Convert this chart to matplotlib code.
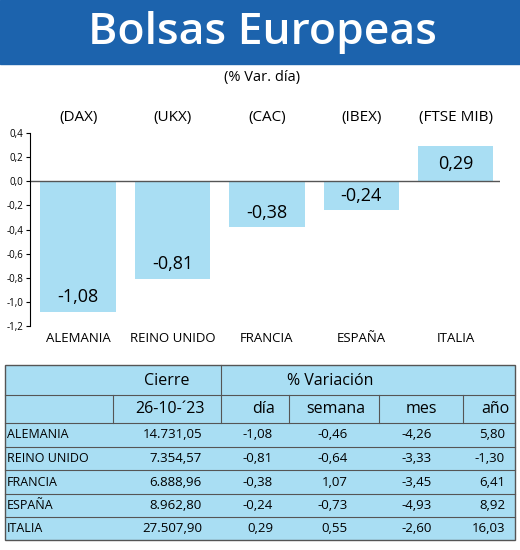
import matplotlib.pyplot as plt
from matplotlib.patches import Rectangle

paises = ["ALEMANIA", "REINO UNIDO", "FRANCIA", "ESPAÑA", "ITALIA"]
indices = ["(DAX)", "(UKX)", "(CAC)", "(IBEX)", "(FTSE MIB)"]
var_dia = [-1.08, -0.81, -0.38, -0.24, 0.29]
cierre = ["14.731,05", "7.354,57", "6.888,96", "8.962,80", "27.507,90"]
dia = ["-1,08", "-0,81", "-0,38", "-0,24", "0,29"]
semana = ["-0,46", "-0,64", "1,07", "-0,73", "0,55"]
mes = ["-4,26", "-3,33", "-3,45", "-4,93", "-2,60"]
anio = ["5,80", "-1,30", "6,41", "8,92", "16,03"]
yticks = [0.4, 0.2, 0.0, -0.2, -0.4, -0.6, -0.8, -1.0, -1.2]

W, H = 520, 550
fig = plt.figure(figsize=(W / 100, H / 100), dpi=100)
plt.rcParams['font.family'] = ['Open Sans', 'DejaVu Sans']

# overlay in pixel coords
ov = fig.add_axes([0, 0, 1, 1])
ov.set_xlim(0, W)
ov.set_ylim(H, 0)
ov.axis("off")

ov.add_patch(Rectangle((0, 0), W, 64, color="#1c63ad"))
ov.text(262, 33, "Bolsas Europeas", color="white", fontsize=32, fontweight="semibold",
        ha="center", va="center")
ov.text(262, 78, "(% Var. día)", fontsize=10.5, ha="center", va="center")

# bar chart
x0, x1, y0, y1 = 30, 500, 133, 326
ax = fig.add_axes([x0 / W, 1 - y1 / H, (x1 - x0) / W, (y1 - y0) / H])
pos = range(len(paises))
ax.bar(pos, var_dia, width=0.8, color="#a9def3")
ax.axhline(0, color="#555555", lw=1)
ax.set_ylim(-1.2, 0.4)
ax.set_xlim(-0.51, 4.47)
ax.set_yticks(yticks)
ax.set_yticklabels([f"{v:.1f}".replace(".", ",") for v in yticks], fontsize=7)
ax.tick_params(axis="y", length=3, pad=2)
ax.set_xticks([])
for s in ["top", "right", "bottom"]:
    ax.spines[s].set_visible(False)
for i, v in enumerate(var_dia):
    yl = v / 2 if v > 0 else v + 0.12
    ax.text(i, yl, f"{v:.2f}".replace(".", ","), ha="center", va="center", fontsize=13)
    ax.text(i, 0.53, indices[i], ha="center", va="center", fontsize=11)
    ax.text(i, -1.3, paises[i], ha="center", va="center", fontsize=9.5)

# table
tx0, tx1, ty0, ty1 = 5, 515, 365, 540
ov.add_patch(Rectangle((tx0, ty0), tx1 - tx0, ty1 - ty0, facecolor="#a9def3",
                       edgecolor="#555555", lw=1))
rows = [365, 395, 423, 447, 470, 494, 517, 540]
for r in rows[1:-1]:
    ov.plot([tx0, tx1], [r, r], color="#555555", lw=0.8)
ov.plot([221, 221], [365, 423], color="#555555", lw=0.8)
for xv in [113, 289, 379, 463]:
    ov.plot([xv, xv], [395, 423], color="#555555", lw=0.8)
ov.text(167, 381, "Cierre", fontsize=11.5, ha="center", va="center")
ov.text(330, 381, "% Variación", fontsize=11.5, ha="center", va="center")
hdr = [(205, "26-10-´23"), (275, "día"), (365, "semana"), (437, "mes"), (510, "año")]
for xr, t in hdr:
    ov.text(xr, 409, t, fontsize=11.5, ha="right", va="center")
cols = [(202, cierre), (273, dia), (348, semana), (432, mes), (505, anio)]
for j, p in enumerate(paises):
    yc = (rows[j + 2] + rows[j + 3]) / 2
    ov.text(7, yc, p, fontsize=9, ha="left", va="center")
    for xr, vals in cols:
        ov.text(xr, yc, vals[j], fontsize=9.5, ha="right", va="center")

fig.savefig("out.png", dpi=100)
